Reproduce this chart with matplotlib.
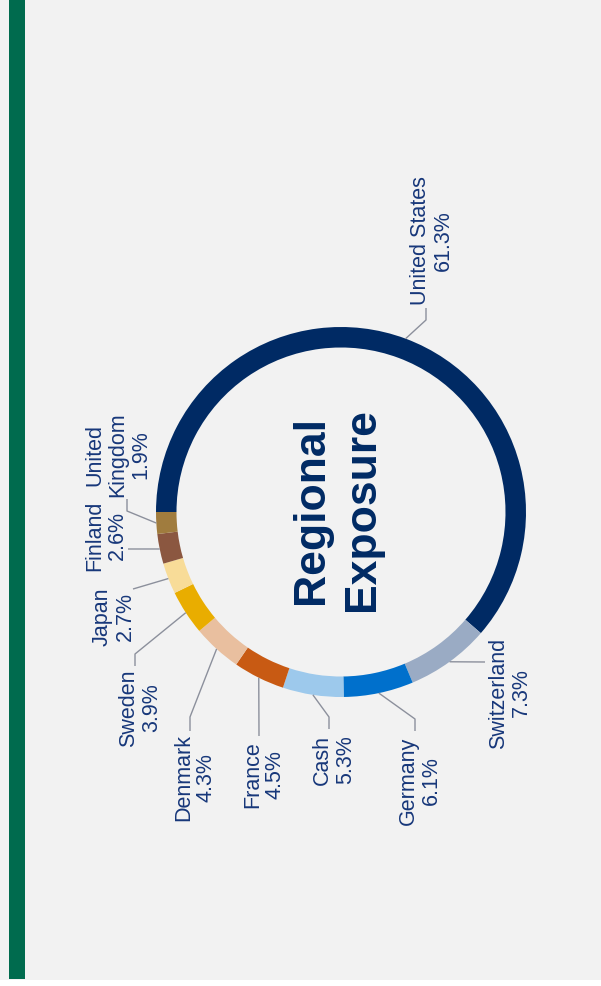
import numpy as np
import matplotlib
matplotlib.use("Agg")
import matplotlib.pyplot as plt
from matplotlib.patches import Rectangle

plt.rcParams['font.family'] = ['Liberation Sans', 'DejaVu Sans']

# regional exposure, percent of portfolio (clockwise from the left edge of the ring)
regions = ['United States', 'Switzerland', 'Germany', 'Cash', 'France',
           'Denmark', 'Sweden', 'Japan', 'Finland', 'United Kingdom']
weights = [61.3, 7.3, 6.1, 5.3, 4.5, 4.3, 3.9, 2.7, 2.6, 1.9]
colors = ['#002a64', '#9aabc4', '#0070cc', '#9dc9ec', '#c85a13',
          '#e9bf9f', '#e9ad00', '#f8dc98', '#8b5740', '#a07c3e']

# label centres and leader elbows, in pixels measured from the top-left corner
label_pos = {
    'United States': ((432, 241), [(426, 321), (426, 309)]),
    'Switzerland': ((510, 693), [(485, 663)]),
    'Germany': ((420, 781), [(415, 720), (415, 732)]),
    'Cash': ((334, 760), [(329, 718), (329, 730)]),
    'France': ((264, 775), [(259, 737)]),
    'Denmark': ((195, 778), [(190, 718), (190, 732)]),
    'Sweden': ((140, 708), [(135, 655), (135, 667)]),
    'Japan': ((114, 617), [(133, 590)]),
    'Finland': ((106, 536), [(128, 550)]),
    'United Kingdom': ((118, 455), [(127, 512), (127, 500)]),
}
wrapped = {'United Kingdom': 'United\nKingdom'}

W, H = 601, 987
navy = '#002a64'
text_navy = '#17377a'
line_grey = '#8c909c'


def flip(p):
    return p[0], H - p[1]


fig = plt.figure(figsize=(W / 100, H / 100), dpi=100, facecolor='white')
ax = fig.add_axes([0, 0, 1, 1])

# page background and the green side rule
ax.add_patch(Rectangle((0, H - 981), W, 981, facecolor='#f2f2f2', edgecolor='none', zorder=0))
ax.add_patch(Rectangle((9, H - 980), 16, 980, facecolor='#006b4e', edgecolor='none', zorder=1))

cx, cy = flip((341, 513))
radius = 185
wedges, _ = ax.pie(weights, colors=colors, startangle=180, counterclock=False,
                   center=(cx, cy), radius=radius, frame=True,
                   wedgeprops=dict(width=20.5, edgecolor='none'))
ax.set_xlim(0, W)
ax.set_ylim(0, H)
ax.set_aspect('equal')
ax.axis('off')

for w, name, val in zip(wedges, regions, weights):
    mid = np.deg2rad((w.theta1 + w.theta2) / 2)
    start = (cx + radius * np.cos(mid), cy + radius * np.sin(mid))
    (tx, ty), path = label_pos[name]
    pts = [start] + [flip(p) for p in path]
    xs, ys = zip(*pts)
    ax.plot(xs, ys, color=line_grey, lw=1.0, solid_capstyle='butt', zorder=3)
    label = f"{wrapped.get(name, name)}\n{val:.1f}%"
    ax.text(tx, H - ty, label, rotation=90, ha='center', va='center',
            multialignment='center', fontsize=15.5, color=text_navy,
            linespacing=1.12, zorder=4)

ax.text(*flip((337, 510)), 'Regional\nExposure', rotation=90, ha='center', va='center',
        multialignment='center', fontsize=32, fontweight='bold', color=navy,
        linespacing=1.3, zorder=4)

fig.savefig('out.png', dpi=100, facecolor=fig.get_facecolor())
